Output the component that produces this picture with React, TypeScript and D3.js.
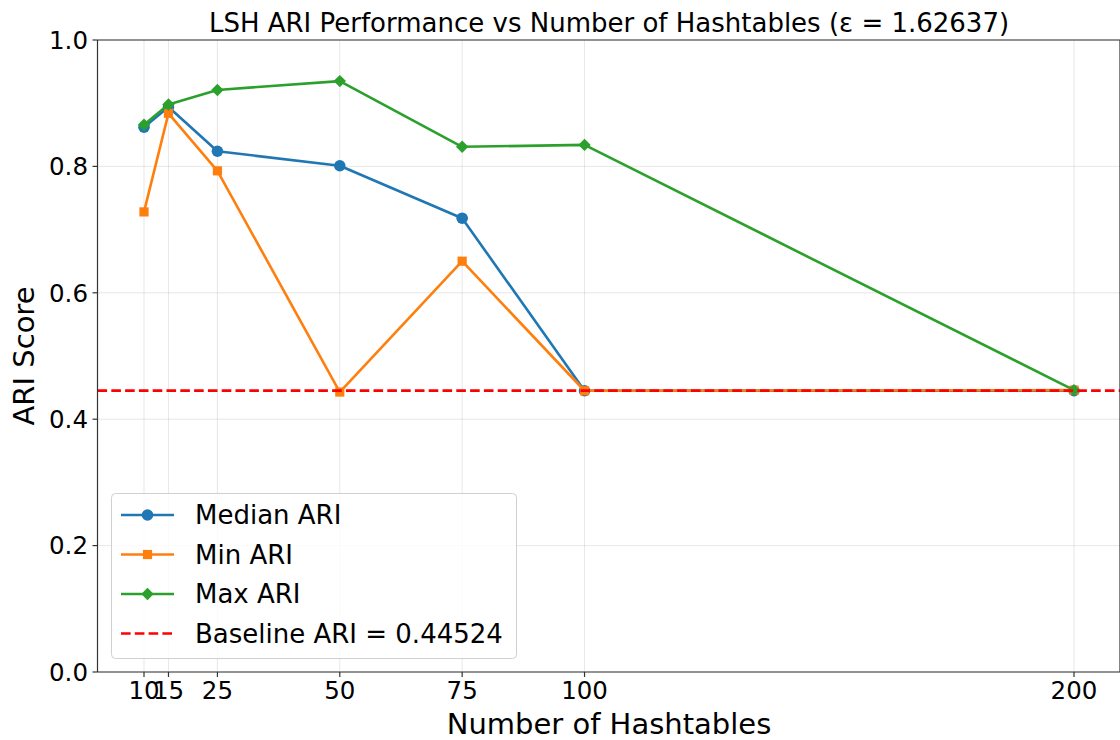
import React from "react";
import * as d3 from "d3";

const hashtables = [10, 15, 25, 50, 75, 100, 200];
const medianARI = [0.862, 0.894, 0.824, 0.801, 0.718, 0.445, 0.445];
const minARI = [0.728, 0.884, 0.793, 0.443, 0.650, 0.445, 0.446];
const maxARI = [0.866, 0.898, 0.921, 0.935, 0.831, 0.834, 0.446];
const baseline = 0.44524;
const yTicks = [0, 0.2, 0.4, 0.6, 0.8, 1.0];
const xTicks = [10, 15, 25, 50, 75, 100, 200];

const W = 1120, H = 740;
const M = { left: 97.5, right: 1120.5, top: 40, bottom: 672 };
const FONT = "DejaVu Sans, sans-serif";

export default function App() {
  const x = d3.scaleLinear().domain([0.5, 209.5]).range([M.left, M.right]);
  const y = d3.scaleLinear().domain([0, 1]).range([M.bottom, M.top]);
  const line = d3.line<number>().x((_, i) => x(hashtables[i])).y((d) => y(d));

  const series = [
    { name: "Median ARI", values: medianARI, color: "#1f77b4", marker: "circle" },
    { name: "Min ARI", values: minARI, color: "#ff7f0e", marker: "square" },
    { name: "Max ARI", values: maxARI, color: "#2ca02c", marker: "diamond" },
  ];

  const marker = (type: string, cx: number, cy: number, color: string, key: any) => {
    if (type === "circle") return <circle key={key} cx={cx} cy={cy} r={5.8} fill={color} />;
    if (type === "square") return <rect key={key} x={cx - 4.6} y={cy - 4.6} width={9.2} height={9.2} fill={color} />;
    const s = 6.2;
    return <polygon key={key} points={`${cx},${cy - s} ${cx + s},${cy} ${cx},${cy + s} ${cx - s},${cy}`} fill={color} />;
  };

  const legendItems = [...series.map((s) => ({ ...s, dashed: false })), { name: "Baseline ARI = 0.44524", values: [], color: "#ff0000", marker: "", dashed: true }];

  return (
    <svg width={W} height={H} style={{ position: "absolute", left: 0, top: 0, background: "#fff" }} fontFamily={FONT}>
      <defs>
        <clipPath id="plot">
          <rect x={M.left} y={M.top} width={M.right - M.left} height={M.bottom - M.top} />
        </clipPath>
      </defs>
      {xTicks.map((t) => (
        <line key={"gx" + t} x1={x(t)} x2={x(t)} y1={M.top} y2={M.bottom} stroke="#b0b0b0" strokeOpacity={0.3} strokeWidth={1} />
      ))}
      {yTicks.map((t) => (
        <line key={"gy" + t} x1={M.left} x2={M.right} y1={y(t)} y2={y(t)} stroke="#b0b0b0" strokeOpacity={0.3} strokeWidth={1} />
      ))}
      <g clipPath="url(#plot)">
        {series.map((s) => (
          <g key={s.name}>
            <path d={line(s.values) || ""} fill="none" stroke={s.color} strokeWidth={2.6} strokeLinejoin="round" />
            {s.values.map((v, i) => marker(s.marker, x(hashtables[i]), y(v), s.color, i))}
          </g>
        ))}
        <line x1={M.left} x2={M.right} y1={y(baseline)} y2={y(baseline)} stroke="#ff0000" strokeWidth={2.6} strokeDasharray="9.6,4.2" />
      </g>
      <line x1={M.left} x2={M.left} y1={M.top} y2={M.bottom} stroke="#333" strokeWidth={1.2} />
      <line x1={M.left} x2={M.right} y1={M.bottom} y2={M.bottom} stroke="#333" strokeWidth={1.2} />
      <line x1={M.left} x2={M.right} y1={M.top} y2={M.top} stroke="#333" strokeWidth={1.2} />
      <line x1={M.right - 0.5} x2={M.right - 0.5} y1={M.top} y2={M.bottom} stroke="#333" strokeWidth={1.2} />
      {yTicks.map((t) => (
        <g key={"yt" + t}>
          <line x1={M.left - 5} x2={M.left} y1={y(t)} y2={y(t)} stroke="#333" strokeWidth={1.2} />
          <text x={M.left - 9.5} y={y(t)} dy="0.36em" textAnchor="end" fontSize={24.5} fill="#000">{t.toFixed(1)}</text>
        </g>
      ))}
      {xTicks.map((t) => (
        <g key={"xt" + t}>
          <line x1={x(t)} x2={x(t)} y1={M.bottom} y2={M.bottom + 5} stroke="#333" strokeWidth={1.2} />
          <text x={x(t)} y={M.bottom + 27} textAnchor="middle" fontSize={24.5} fill="#000">{t}</text>
        </g>
      ))}
      <text x={609} y={32} textAnchor="middle" fontSize={26} fill="#000">LSH ARI Performance vs Number of Hashtables (ε = 1.62637)</text>
      <text x={609} y={734} textAnchor="middle" fontSize={29} fill="#000">Number of Hashtables</text>
      <text transform={`translate(34,356) rotate(-90)`} textAnchor="middle" fontSize={29} fill="#000">ARI Score</text>
      <rect x={111.5} y={493.5} width={405} height={165} rx={4} fill="#fff" fillOpacity={0.8} stroke="#d0d0d0" strokeWidth={1} />
      {legendItems.map((s, i) => {
        const cy = 515 + i * 39.5;
        return (
          <g key={s.name}>
            <line x1={121} x2={174} y1={cy} y2={cy} stroke={s.color} strokeWidth={2.6} strokeDasharray={s.dashed ? "9.6,4.2" : undefined} />
            {!s.dashed && marker(s.marker, 147.5, cy, s.color, "m")}
            <text x={195} y={cy} dy="0.36em" fontSize={26} fill="#000">{s.name}</text>
          </g>
        );
      })}
    </svg>
  );
}
